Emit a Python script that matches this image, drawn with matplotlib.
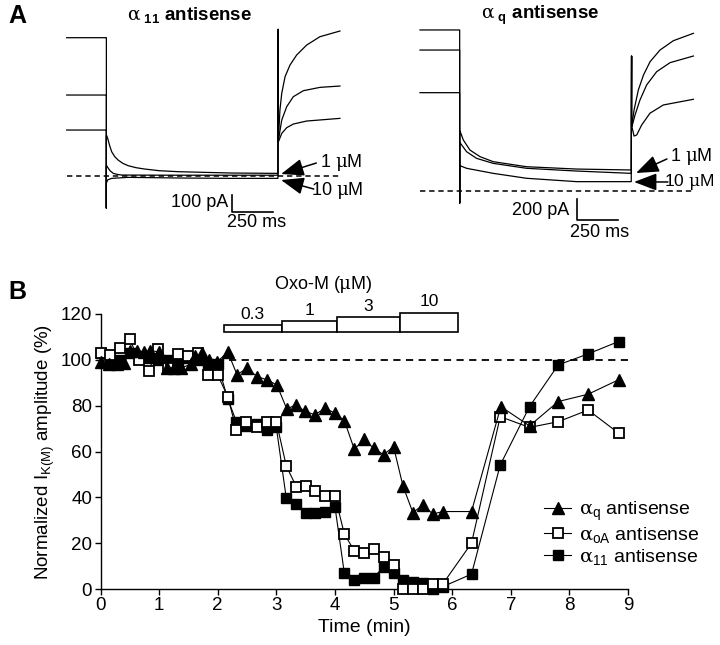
import numpy as np
import matplotlib
matplotlib.use("Agg")
import matplotlib.pyplot as plt

plt.rcParams['font.family'] = ['Liberation Sans', 'DejaVu Sans']
plt.rcParams['mathtext.fontset'] = 'custom'
plt.rcParams['mathtext.rm'] = 'DejaVu Serif'
plt.rcParams['mathtext.it'] = 'DejaVu Serif:italic'
plt.rcParams['mathtext.sf'] = 'Liberation Sans'
plt.rcParams['mathtext.bf'] = 'Liberation Sans:bold'

# ---------------- Panel B data ----------------
t_q = [0, 0.14, 0.28, 0.40, 0.51, 0.63, 0.74, 0.85, 1.0, 1.14, 1.25, 1.37, 1.54, 1.62, 1.73,
       1.85, 1.99, 2.17, 2.33, 2.50, 2.67, 2.84, 3.01, 3.18, 3.33, 3.49, 3.66, 3.83, 4.0, 4.16,
       4.33, 4.50, 4.66, 4.83, 5.0, 5.16, 5.33, 5.50, 5.67, 5.84, 6.33, 6.83, 7.32, 7.81, 8.32, 8.84]
y_q = [99, 98, 98, 98.5, 104, 104, 103.5, 104, 103.5, 96.5, 96.5, 96.5, 98, 101.5, 103,
       100, 99, 103.5, 93.5, 96.4, 92.7, 91.3, 89, 78.5, 80.4, 77.5, 76, 79, 76.7, 73.5,
       61, 65.3, 61.4, 58.6, 62.1, 45, 33.3, 36.7, 32.7, 33.8, 33.8, 79.6, 71.2, 81.8, 85, 91.3]

t_sq = [0, 0.16, 0.33, 0.50, 0.65, 0.82, 0.98, 1.15, 1.32, 1.49, 1.67, 1.83, 2.0, 2.17,
        2.32, 2.49, 2.67, 2.84, 3.0, 3.17, 3.34, 3.51, 3.66, 3.83, 4.0, 4.16, 4.33, 4.5,
        4.66, 4.83, 5.0, 5.16, 5.33, 5.5, 5.67, 5.84, 6.33, 6.82, 7.32, 7.81, 8.32, 8.84]
y_oA = [102.8, 102, 105, 109, 100, 95.3, 104.7, 96.4, 102.6, 101.7, 102.9, 93.4, 93.4, 84,
        69.4, 73, 70.9, 73, 73, 53.7, 44.7, 45, 42.9, 40.6, 40.6, 24, 16.7, 15.9,
        17.3, 14.1, 10.5, 0, 0, 0, 2.2, 2.2, 20, 75.2, 70.5, 73, 78.1, 68]
y_11 = [103, 99, 100, 103, 101, 101, 100, 100, 98, 101, 100, 98, 98, 83,
        73, 71, 72, 69.5, 70.5, 39.6, 37.1, 33, 33, 33.8, 36, 6.9, 3.9, 5,
        5, 9.7, 6.9, 4, 3, 2.5, 0, 1, 6.5, 54.1, 79.6, 97.8, 102.6, 108]

dose_labels = ['0.3', '1', '3', '10']
dose_start = [2.11, 3.09, 4.03, 5.11]
dose_end = [3.09, 4.03, 5.11, 6.10]
dose_top = [115.3, 116.9, 118.6, 120.6]
dose_bottom = 112.3

# ---------------- Panel A data (ms, pA) ----------------
hold_t = [0, 238]
step_on = 240
step_off = 1280

L_hold = [828, 484, 274]
L_on_spike = -194
L_off_spike = 878
L_step_t = [[242, 248, 260, 272, 290, 311, 340, 372, 420, 472, 560, 675, 1000, 1278],
            [242, 248, 262, 282, 305, 332, 600, 1000, 1278],
            [242, 248, 272, 372, 700, 1000, 1278]]
L_step_i = [[240, 224, 180, 144, 115, 94, 74, 60, 48, 40, 30, 24, 16, 14],
            [60, 50, 30, 14, 8, 4, 3, 3, 3],
            [-40, -25, -16, -10, -14, -16, -16]]
L_tail_t = [[1281, 1290, 1301, 1321, 1351, 1391, 1452, 1532, 1653],
            [1281, 1301, 1331, 1371, 1432, 1532, 1653],
            [1281, 1301, 1331, 1371, 1452, 1653]]
L_tail_i = [[214, 394, 494, 594, 664, 724, 784, 834, 868],
            [214, 334, 414, 474, 510, 530, 538],
            [204, 254, 288, 310, 328, 344]]

R_hold = [1533, 1342, 936]
R_on_spike = -114
R_off_spike = 1285
R_step_t = [[242, 262, 302, 363, 443, 645, 948, 1278],
            [242, 282, 342, 443, 645, 948, 1278],
            [242, 282, 443, 645, 948, 1278]]
R_step_i = [[571, 486, 390, 327, 279, 231, 209, 200],
            [460, 374, 311, 263, 216, 190, 168],
            [241, 216, 168, 121, 89, 89]]
R_tail_t = [[1282, 1295, 1321, 1352, 1392, 1452, 1533, 1654],
            [1282, 1301, 1331, 1371, 1432, 1513, 1654],
            [1282, 1295, 1311, 1341, 1391, 1472, 1654]]
R_tail_i = [[628, 771, 962, 1104, 1231, 1342, 1431, 1501],
            [612, 724, 867, 1009, 1136, 1222, 1285],
            [612, 523, 533, 628, 740, 819, 873]]

W, H = 720, 645
fig = plt.figure(figsize=(W / 100, H / 100), dpi=100)


def fx(x):
    return x / W


def fy(y):
    return 1 - y / H


def trace_axes(x0, y_zero_px, t0_px, pa_per_px, ms_per_px=6.05):
    ax = fig.add_axes([fx(x0), fy(240), 300 / W, 220 / H])
    xa = -(t0_px - x0) * ms_per_px
    ax.set_xlim(xa, xa + 300 * ms_per_px)
    ax.set_ylim((y_zero_px - 240) * pa_per_px, (y_zero_px - 20) * pa_per_px)
    ax.axis('off')
    return ax


def draw_traces(ax, hold, on_spike, off_spike, st_t, st_i, tl_t, tl_i):
    for k in range(3):
        tt = list(hold_t) + [step_on, step_on, step_on] + st_t[k] + [step_off, step_off] + tl_t[k]
        ii = [hold[k], hold[k]] + [hold[k], on_spike, st_i[k][0]] + st_i[k] + [off_spike, tl_i[k][0]] + tl_i[k]
        ax.plot(tt, ii, color='black', lw=0.9, solid_joinstyle='round')


arrow_kw = dict(arrowstyle='-|>,head_length=1.0,head_width=0.38', color='black', lw=1.1,
                mutation_scale=14, shrinkA=0, shrinkB=0)
TFS = 13

# Left traces
axL = trace_axes(60, 175.7, 66.7, 6.0)
draw_traces(axL, L_hold, L_on_spike, L_off_spike, L_step_t, L_step_i, L_tail_t, L_tail_i)
axL.plot([0, 1650], [0, 0], color='black', lw=1.1, ls=(0, (3.5, 2.5)))
axL.plot([998, 998, 1248], [-116, -216, -216], color='black', lw=1.2)
axL.text(975, -158, '100 pA', ha='right', va='center', fontsize=TFS)
axL.text(1151, -280, '250 ms', ha='center', va='center', fontsize=TFS)
axL.annotate('', xy=(1297, 10), xytext=(1510, 76), arrowprops=arrow_kw)
axL.text(1535, 78, r'1 $\mathrm{\mu}$M', ha='left', va='center', fontsize=TFS)
axL.annotate('', xy=(1297, -26), xytext=(1495, -80), arrowprops=arrow_kw)
axL.text(1480, -90, r'10 $\mathrm{\mu}$M', ha='left', va='center', fontsize=TFS)

# Right traces
axR = trace_axes(410, 191, 420, 9.52)
draw_traces(axR, R_hold, R_on_spike, R_off_spike, R_step_t, R_step_i, R_tail_t, R_tail_i)
axR.plot([0, 1652], [0, 0], color='black', lw=1.1, ls=(0, (3.5, 2.5)))
axR.plot([948, 948, 1198], [-76, -276, -276], color='black', lw=1.2)
axR.text(900, -190, '200 pA', ha='right', va='center', fontsize=TFS)
axR.text(1089, -392, '250 ms', ha='center', va='center', fontsize=TFS)
axR.annotate('', xy=(1307, 171), xytext=(1494, 305), arrowprops=arrow_kw)
axR.text(1515, 326, r'1 $\mathrm{\mu}$M', ha='left', va='center', fontsize=TFS)
axR.annotate('', xy=(1295, 86), xytext=(1500, 86), arrowprops=arrow_kw)
axR.text(1478, 86, r'10 $\mathrm{\mu}$M', ha='left', va='center', fontsize=12.5)

# Titles and panel letters
fig.text(fx(190), fy(15), r'$\mathrm{\alpha}_{\ \mathbf{11}}$ antisense', ha='center', va='center',
         fontsize=13.5, fontweight='bold')
fig.text(fx(540), fy(15), r'$\mathrm{\alpha}_{\ \mathbf{q}}$ antisense', ha='center', va='center',
         fontsize=13.5, fontweight='bold')
fig.text(fx(8), fy(16), 'A', ha='left', va='center', fontsize=18, fontweight='bold')
fig.text(fx(8), fy(292), 'B', ha='left', va='center', fontsize=18, fontweight='bold')

# ---------------- Panel B ----------------
ax = fig.add_axes([fx(100.5), fy(589), (628 - 100.5) / W, (589 - 314) / H])
ax.set_xlim(0, 9)
ax.set_ylim(0, 120)
for s in ['top', 'right']:
    ax.spines[s].set_visible(False)
for s in ['left', 'bottom']:
    ax.spines[s].set_linewidth(1.0)
ax.set_xticks(range(0, 10))
ax.set_yticks(range(0, 121, 20))
ax.tick_params(direction='out', length=4, width=1, labelsize=13.5, pad=2)
ax.set_xlabel('Time (min)', fontsize=14, labelpad=3)
ax.set_ylabel(r'Normalized $\mathsf{I_{K(M)}}$ amplitude (%)', fontsize=13.5, labelpad=3)

ax.plot([2.2, 9], [100, 100], color='black', lw=1.3, ls=(0, (4, 3)), zorder=1)

h11, = ax.plot(t_sq, y_11, color='black', lw=0.8, marker='s', ms=7.5, mfc='black', mec='black',
               clip_on=False, zorder=3, label=r'$\mathrm{\alpha}_{\mathsf{11}}$ antisense')
hoA, = ax.plot(t_sq, y_oA, color='black', lw=0.8, marker='s', ms=7.5, mfc='white', mec='black',
               mew=1.3, clip_on=False, zorder=4, label=r'$\mathrm{\alpha}_{\mathsf{oA}}$ antisense')
hq, = ax.plot(t_q, y_q, color='black', lw=0.8, marker='^', ms=9, mfc='black', mec='black',
              clip_on=False, zorder=5, label=r'$\mathrm{\alpha}_{\mathsf{q}}$ antisense')

widths = [e - s for s, e in zip(dose_start, dose_end)]
heights = [t - dose_bottom for t in dose_top]
ax.bar(dose_start, heights, width=widths, bottom=dose_bottom, align='edge',
       facecolor='white', edgecolor='black', linewidth=1.2, clip_on=False, zorder=2)
for s, w, top, lab in zip(dose_start, widths, dose_top, dose_labels):
    ax.text(s + w / 2, top + 1.4, lab, ha='center', va='bottom', fontsize=12.5, clip_on=False)
ax.text(3.8, 132.7, r'Oxo-M ($\mathrm{\mu}$M)', ha='center', va='center', fontsize=13)

ax.legend(handles=[hq, hoA, h11], loc='upper left', bbox_to_anchor=(0.826, 0.352),
          frameon=False, fontsize=14, handlelength=1.4, handletextpad=0.4,
          labelspacing=0.1, borderaxespad=0)

fig.savefig('out.png', dpi=100)
